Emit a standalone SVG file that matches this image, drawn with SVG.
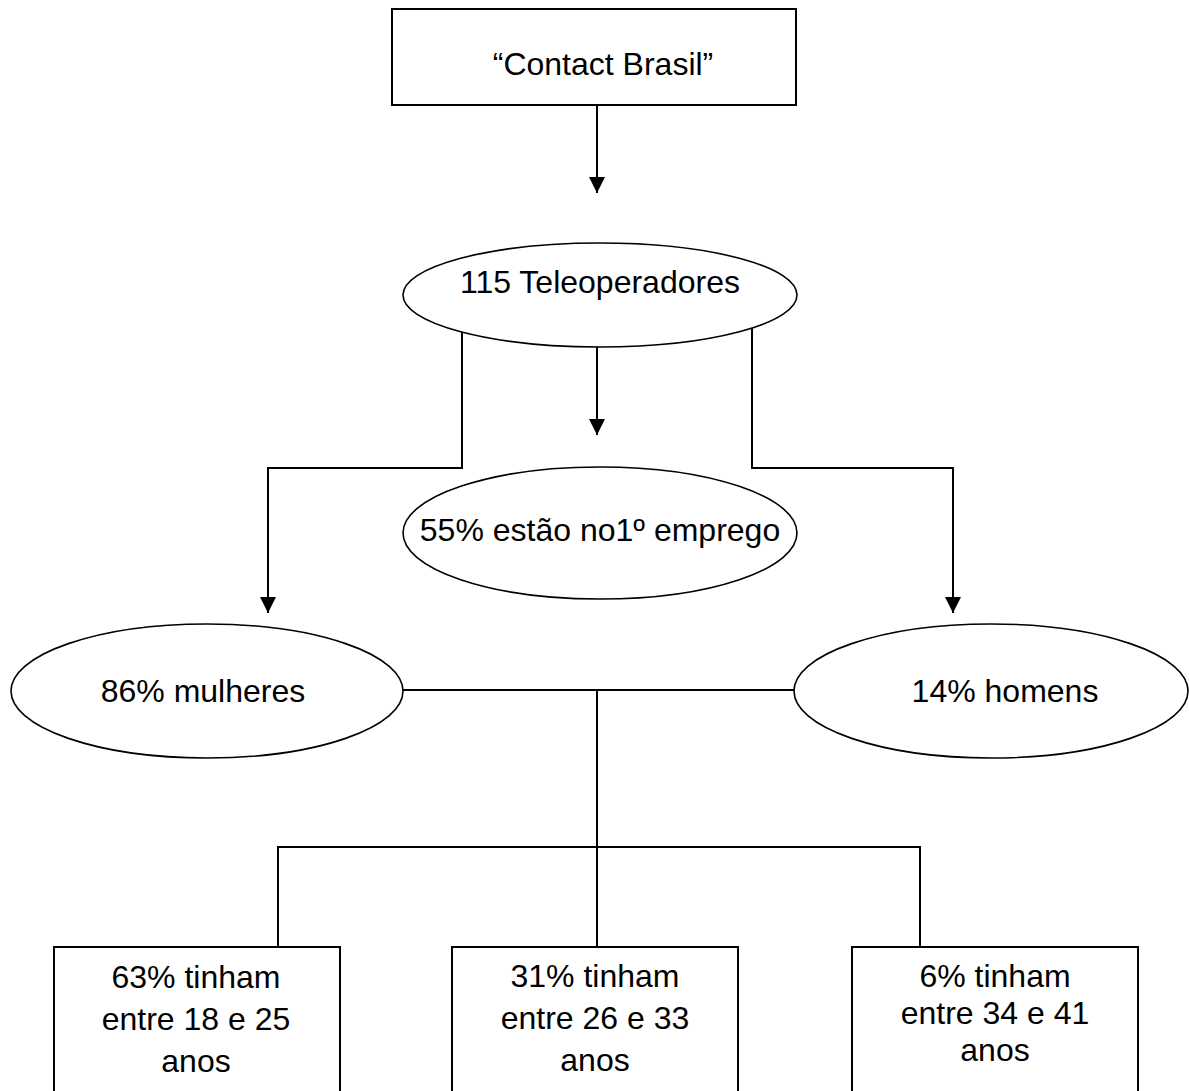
<svg xmlns="http://www.w3.org/2000/svg" width="1189" height="1091" viewBox="0 0 1189 1091">
<style>
.shape{fill:#fff;stroke:#000;stroke-width:2}
.ell{fill:#fff;stroke:#000;stroke-width:1.6}
.conn{fill:none;stroke:#000;stroke-width:2}
text{font-family:"Liberation Sans",Arial,sans-serif;font-size:32px;fill:#000;text-anchor:middle}
</style>
<defs>
<marker id="arr" viewBox="0 0 16 16" refX="16" refY="8" markerWidth="16" markerHeight="16" orient="auto" markerUnits="userSpaceOnUse">
<path d="M0,0 L16,8 L0,16 z" fill="#000"/>
</marker>
</defs>
<rect width="1189" height="1091" fill="#fff"/>
<g id="connectors">
<line class="conn" x1="597" y1="105" x2="597" y2="193" marker-end="url(#arr)"/>
<line class="conn" x1="597" y1="347" x2="597" y2="435" marker-end="url(#arr)"/>
<polyline class="conn" points="462,330 462,468 268,468 268,613" marker-end="url(#arr)"/>
<polyline class="conn" points="752,328 752,468 953,468 953,613" marker-end="url(#arr)"/>
<line class="conn" x1="403" y1="690" x2="795" y2="690"/>
<line class="conn" x1="597" y1="690" x2="597" y2="947"/>
<polyline class="conn" points="278,947 278,847 920,847 920,947"/>
</g>
<g id="contact-brasil">
<rect class="shape" x="392" y="9" width="404" height="96"/>
<text x="603" y="75">“Contact Brasil”</text>
</g>
<g id="teleoperadores">
<ellipse class="ell" cx="600" cy="295" rx="197" ry="52"/>
<text x="600" y="293">115 Teleoperadores</text>
</g>
<g id="primeiro-emprego">
<ellipse class="ell" cx="600" cy="533" rx="197" ry="66"/>
<text x="600" y="541">55% estão no1º emprego</text>
</g>
<g id="mulheres">
<ellipse class="ell" cx="207" cy="691" rx="196" ry="67"/>
<text x="203" y="702">86% mulheres</text>
</g>
<g id="homens">
<ellipse class="ell" cx="991" cy="691" rx="197" ry="67"/>
<text x="1005" y="702">14% homens</text>
</g>
<g id="idade-18-25">
<rect class="shape" x="54" y="947" width="286" height="150"/>
<text x="196" y="988">63% tinham</text>
<text x="196" y="1030">entre 18 e 25</text>
<text x="196" y="1072">anos</text>
</g>
<g id="idade-26-33">
<rect class="shape" x="452" y="947" width="286" height="150"/>
<text x="595" y="987">31% tinham</text>
<text x="595" y="1029">entre 26 e 33</text>
<text x="595" y="1071">anos</text>
</g>
<g id="idade-34-41">
<rect class="shape" x="852" y="947" width="286" height="150"/>
<text x="995" y="987">6% tinham</text>
<text x="995" y="1024">entre 34 e 41</text>
<text x="995" y="1061">anos</text>
</g>
</svg>
